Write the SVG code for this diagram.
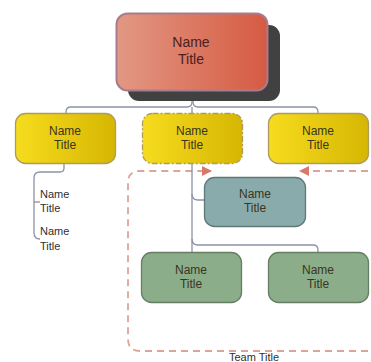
<svg xmlns="http://www.w3.org/2000/svg" width="371" height="362" viewBox="0 0 371 362">
<defs>
<linearGradient id="gTop" x1="0" y1="0" x2="1" y2="0">
<stop offset="0" stop-color="#e29884"/>
<stop offset="1" stop-color="#d65a42"/>
</linearGradient>
<linearGradient id="gYel" x1="0" y1="0" x2="1" y2="0">
<stop offset="0" stop-color="#f6dc1e"/>
<stop offset="1" stop-color="#d6b602"/>
</linearGradient>
<marker id="arr" viewBox="0 0 10 10" refX="9" refY="5" markerWidth="10" markerHeight="10" markerUnits="userSpaceOnUse" orient="auto">
<path d="M0,0 L10,5 L0,10 z" fill="#d87a6a"/>
</marker>
<style>
text{font-family:"Liberation Sans",Arial,sans-serif;text-anchor:middle;}
.t12{font-size:12px;fill:#3a3420;}
.t14{font-size:14px;fill:#4a2020;}
.t11{font-size:11px;fill:#303030;text-anchor:start;}
.line{fill:none;stroke:#8a92a4;stroke-width:1.3;}
.yel{fill:url(#gYel);stroke:#ad9c5c;stroke-width:1.3;}
.teal{fill:#8aabab;stroke:#5f7979;stroke-width:1.3;}
.green{fill:#8cad8a;stroke:#667e64;stroke-width:1.3;}
.team{fill:none;stroke:#dca49a;stroke-width:1.8;stroke-dasharray:7 5;}
</style>
</defs>

<g id="team">
<path class="team" d="M380,351 H140 Q128,351 128,339 V183 Q128,171 140,171 H211" marker-end="url(#arr)"/>
<path class="team" d="M380,171 H300" marker-end="url(#arr)"/>
<text x="254" y="361" style="font-size:11px;fill:#303030">Team Title</text>
</g>

<g id="connectors">
<path class="line" d="M66,113 V112 Q66,107 71,107 H187 Q192,107 192,102 V91"/>
<path class="line" d="M318,113 V112 Q318,107 313,107 H198 Q193,107 193,102 V91"/>
<path class="line" d="M192,107 V113"/>
<path class="line" d="M64,164 V168 Q64,172 60,172 H40 Q34,172 34,178 V233 Q34,239 40,239"/>
<path class="line" d="M34,202 H40"/>
<path class="line" d="M192,164 V252"/>
<path class="line" d="M192,194 Q192,200 198,200 H204"/>
<path class="line" d="M192,239 Q192,245 198,245 H313 Q318,245 318,250 V252"/>
</g>

<g id="top">
<rect x="128" y="25" width="152" height="76" rx="11" fill="#414141"/>
<rect x="116.5" y="13.5" width="151" height="77" rx="11" fill="url(#gTop)" stroke="#a87c8c" stroke-width="2"/>
<text class="t14" x="191" y="47">Name</text>
<text class="t14" x="191" y="64">Title</text>
</g>

<g id="yellow-left">
<rect class="yel" x="15.5" y="113.5" width="100" height="50" rx="10"/>
<text class="t12" x="65" y="135">Name</text>
<text class="t12" x="65" y="148.5">Title</text>
</g>

<g id="yellow-mid">
<rect class="yel" x="142.5" y="113.5" width="100" height="50" rx="10" stroke="#8e8350" stroke-dasharray="6 2 2 2"/>
<text class="t12" x="192" y="135">Name</text>
<text class="t12" x="192" y="148.5">Title</text>
</g>

<g id="yellow-right">
<rect class="yel" x="268.5" y="113.5" width="100" height="50" rx="10"/>
<text class="t12" x="318" y="135">Name</text>
<text class="t12" x="318" y="148.5">Title</text>
</g>

<g id="sub1">
<text class="t11" x="40" y="198">Name</text>
<text class="t11" x="40" y="212">Title</text>
</g>
<g id="sub2">
<text class="t11" x="40" y="235">Name</text>
<text class="t11" x="40" y="250">Title</text>
</g>

<g id="teal">
<rect class="teal" x="204.5" y="177.5" width="101" height="49" rx="10"/>
<text class="t12" x="255" y="198">Name</text>
<text class="t12" x="255" y="212">Title</text>
</g>

<g id="green-left">
<rect class="green" x="141.5" y="252.5" width="100" height="50" rx="10"/>
<text class="t12" x="191" y="274">Name</text>
<text class="t12" x="191" y="288">Title</text>
</g>

<g id="green-right">
<rect class="green" x="268.5" y="252.5" width="100" height="50" rx="10"/>
<text class="t12" x="318" y="274">Name</text>
<text class="t12" x="318" y="288">Title</text>
</g>
</svg>
